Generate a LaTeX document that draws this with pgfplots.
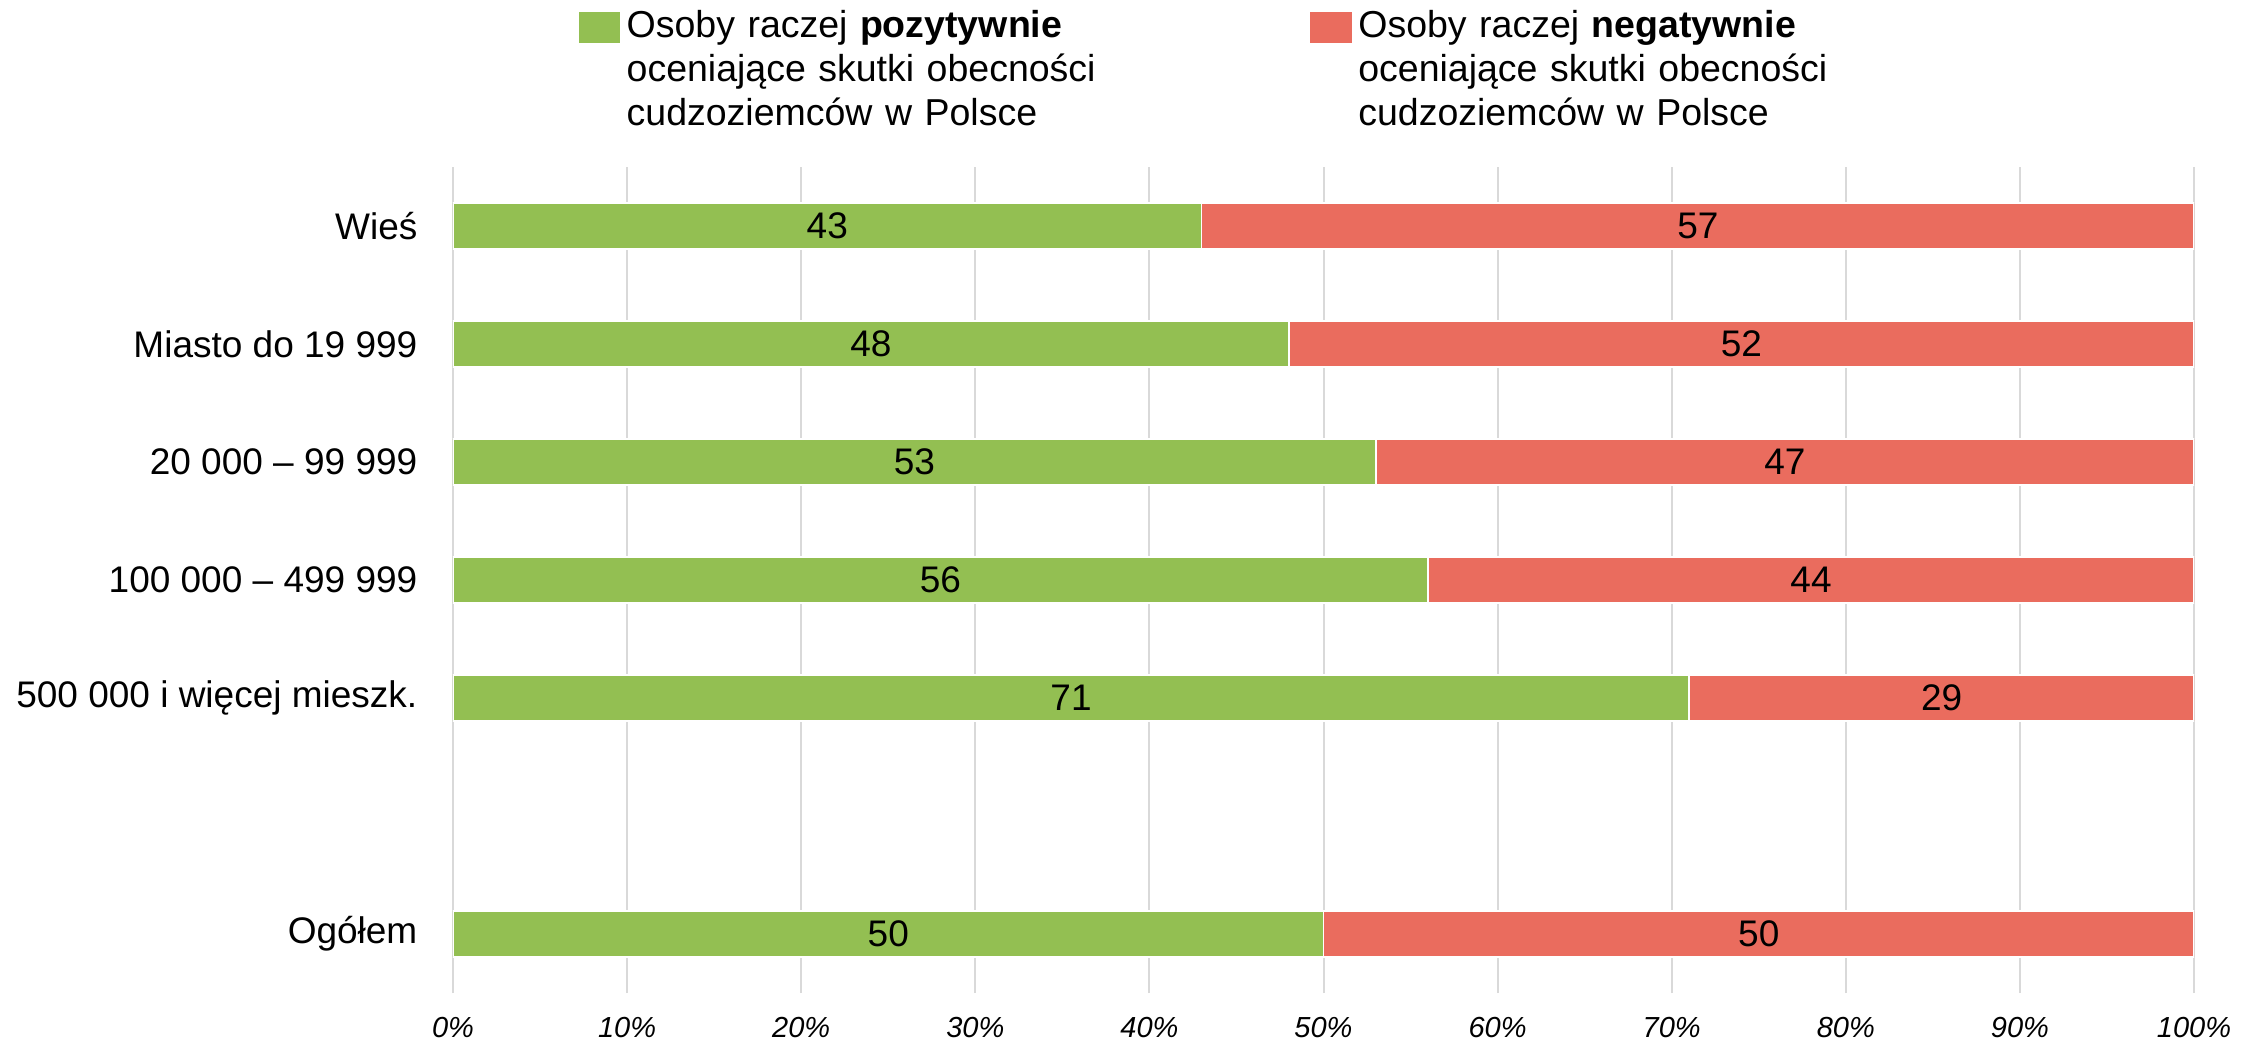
\documentclass[border=0pt]{standalone}
\usepackage{pgfplots}
\pgfplotsset{compat=1.18}
\usepackage{pgfplotstable}
\usepackage{fontspec}
\setmainfont{Liberation Sans}
\definecolor{posgreen}{RGB}{147,191,82}
\definecolor{negred}{RGB}{234,108,94}
\definecolor{gridgray}{RGB}{217,217,217}

\pgfplotstableread{
y pos neg
6 43 57
5 48 52
4 53 47
3 56 44
2 71 29
0 50 50
}\data

\pgfplotsset{
  frame/.style={
    at={(0,0)}, anchor=south west,
    scale only axis, width=522.3pt, height=247.8pt,
    xmin=0, xmax=100, ymin=-0.5, ymax=6.5,
  }
}

\begin{document}
\begin{tikzpicture}
\useasboundingbox (-135.9pt,-14.7pt) rectangle (542.7pt,297.9pt);
\begin{axis}[
  frame,
  xbar stacked, bar width=13.8pt,
  axis line style={draw=none},
  major tick length=0pt,
  xmajorgrids,
  grid style={draw=gridgray, line width=0.6pt},
  xtick={0,10,20,30,40,50,60,70,80,90,100},
  xticklabels={0\%,10\%,20\%,30\%,40\%,50\%,60\%,70\%,80\%,90\%,100\%},
  x tick label style={font=\fontsize{8.7}{10}\selectfont\itshape, anchor=north, inner sep=0pt, yshift=-7pt},
  ytick={0,2,3,4,5,6},
  yticklabels={Ogółem, 500 000 i więcej mieszk., 100 000 – 499 999, 20 000 – 99 999, Miasto do 19 999, Wieś},
  y tick label style={font=\fontsize{11.1}{13}\selectfont, anchor=east, inner sep=0pt, xshift=-10.5pt},
  legend columns=2,
  legend style={
    at={(0.0718,1.1905)}, anchor=north west,
    draw=none, fill=none, inner sep=0pt,
    font=\fontsize{11.25}{13.2}\selectfont,
    nodes={inner sep=0pt, text depth=},
    cells={anchor=base west, text width=190pt, align=left},
    /tikz/every odd column/.append style={column sep=1.9pt},
    /tikz/every even column/.append style={column sep=15.1pt},
  },
]
\addplot[fill=posgreen, draw=white, line width=0.5pt,
  legend image code/.code={\fill[posgreen] (0pt,-1.5pt) rectangle (12pt,7.5pt);}]
  table[x=pos, y=y]{\data};
\addlegendentry{Osoby raczej \textbf{pozytywnie}\\oceniające skutki obecności\\cudzoziemców w Polsce}
\addplot[fill=negred, draw=white, line width=0.5pt,
  legend image code/.code={\fill[negred] (0pt,-1.5pt) rectangle (12pt,7.5pt);}]
  table[x=neg, y=y]{\data};
\addlegendentry{Osoby raczej \textbf{negatywnie}\\oceniające skutki obecności\\cudzoziemców w Polsce}
\end{axis}
\begin{axis}[
  frame, hide axis,
  /pgf/number format/assume math mode=true,
  nodes near coords,
  every node near coord/.style={anchor=center, font=\fontsize{11.1}{13}\selectfont, text=black},
]
\addplot[draw=none, point meta=explicit] table[x expr=\thisrow{pos}/2, y=y, meta=pos]{\data};
\addplot[draw=none, point meta=explicit] table[x expr=\thisrow{pos}+\thisrow{neg}/2, y=y, meta=neg]{\data};
\end{axis}
\end{tikzpicture}
\end{document}
